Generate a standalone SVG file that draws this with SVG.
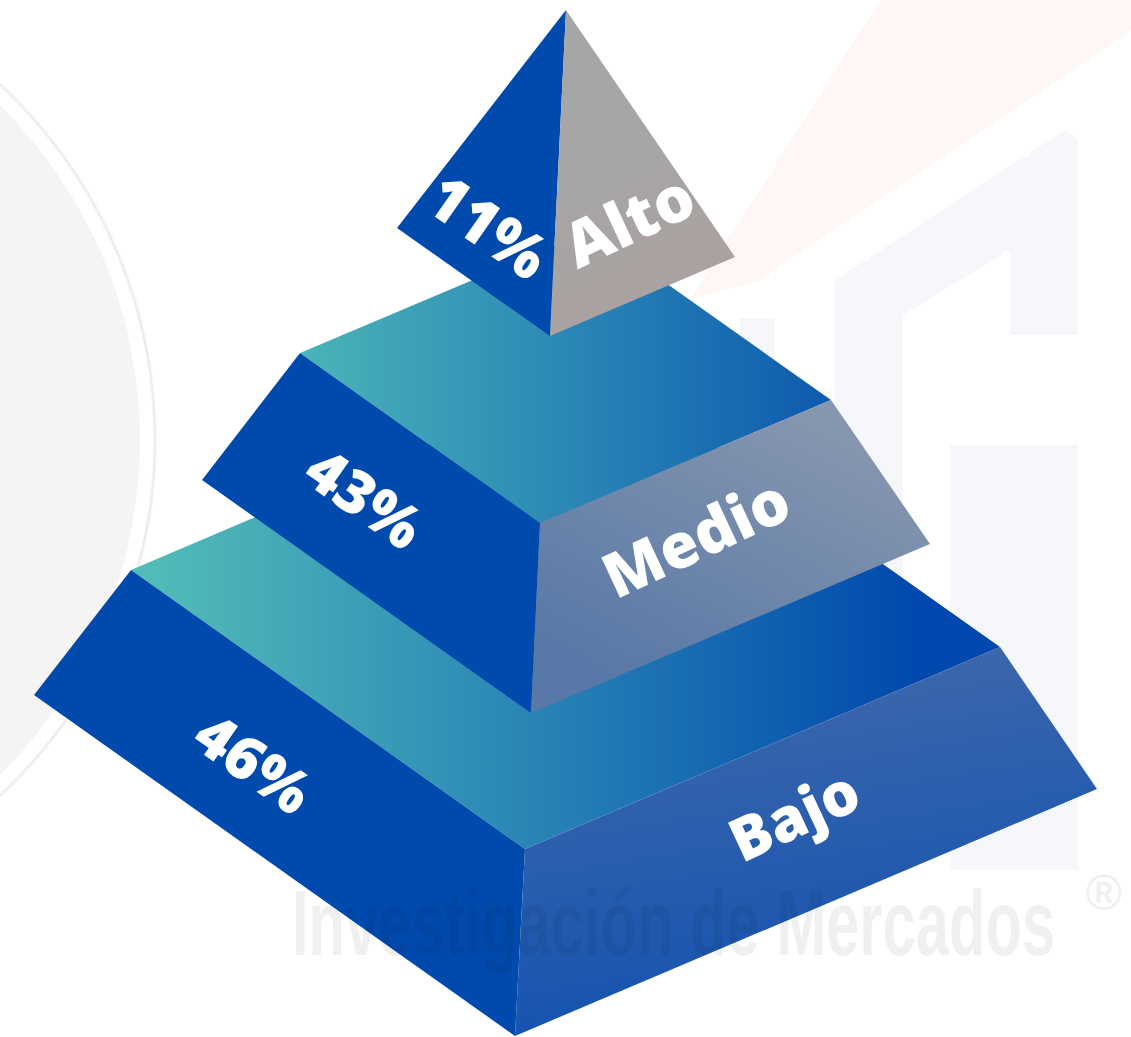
<svg xmlns="http://www.w3.org/2000/svg" width="1131" height="1037" viewBox="0 0 1131 1037">
<defs>
<style>
.lbl{font-family:"Open Sans","DejaVu Sans",sans-serif;font-weight:800;fill:#ffffff;text-anchor:middle}
.left{fill:#004aad}
.wm{fill:#f5f7fa}
.wmt{font-family:"Liberation Sans",sans-serif;font-weight:bold;fill:#000000;fill-opacity:0.06}
</style>
<linearGradient id="topBot" gradientUnits="userSpaceOnUse" x1="150" y1="0" x2="920" y2="0">
<stop offset="0" stop-color="#52bcb8"/><stop offset="0.45" stop-color="#2d8ab6"/><stop offset="1" stop-color="#0048ad"/>
</linearGradient>
<linearGradient id="topMid" gradientUnits="userSpaceOnUse" x1="300" y1="0" x2="850" y2="0">
<stop offset="0" stop-color="#4ab4b8"/><stop offset="0.5" stop-color="#2a86b5"/><stop offset="1" stop-color="#0c56ae"/>
</linearGradient>
<linearGradient id="rightBot" gradientUnits="userSpaceOnUse" x1="700" y1="660" x2="760" y2="1030">
<stop offset="0" stop-color="#4068aa"/><stop offset="1" stop-color="#1252b1"/>
</linearGradient>
<linearGradient id="rightMid" gradientUnits="userSpaceOnUse" x1="800" y1="410" x2="650" y2="700">
<stop offset="0" stop-color="#8696ae"/><stop offset="1" stop-color="#5878a7"/>
</linearGradient>
<linearGradient id="rightTop" gradientUnits="userSpaceOnUse" x1="600" y1="150" x2="680" y2="300">
<stop offset="0" stop-color="#a6a6a6"/><stop offset="1" stop-color="#aba1a0"/>
</linearGradient>
</defs>
<rect width="1131" height="1037" fill="#ffffff"/>
<g id="watermark">
<circle cx="-330" cy="440" r="470" fill="#f6f4f3"/>
<circle cx="-330" cy="440" r="485" fill="none" stroke="#f0eeee" stroke-width="3"/>
<circle cx="1085" cy="-55" r="72" fill="#f5f6f7"/>
<polygon points="880,0 1131,0 1131,30 760,280 690,300" fill="#fef7f5"/>
<polygon class="wm" points="835,280 1065,130 1078,140 1078,335 1010,335 1010,250 903,315 903,870 835,870"/>
<rect class="wm" x="950" y="445" width="128" height="425"/>
<rect class="wm" x="740" y="318" width="35" height="552"/>
</g>
<g id="tier-bajo">
<polygon points="131,570 606,368 1000,647 525,849" fill="url(#topBot)"/>
<polygon class="left" points="131,570 525,849 515,1036 34,695"/>
<polygon points="525,849 1000,647 1097,789 515,1036" fill="url(#rightBot)"/>
<text class="lbl" font-size="60" transform="translate(254,763) rotate(35)" y="22">46%</text>
<text class="lbl" font-size="60" transform="translate(794,815) rotate(-25)" y="22">Bajo</text>
</g>
<g id="tier-medio">
<polygon points="300,353 591,230 831,400 540,523" fill="url(#topMid)"/>
<polygon class="left" points="300,353 540,523 531,713 202,480"/>
<polygon points="540,523 831,400 930,544 531,713" fill="url(#rightMid)"/>
<text class="lbl" font-size="60" transform="translate(365,498) rotate(35)" y="22">43%</text>
<text class="lbl" font-size="62" transform="translate(696,538) rotate(-25)" y="22">Medio</text>
</g>
<g id="tier-alto">
<polygon class="left" points="566,10 397,228 550,336"/>
<polygon points="566,10 550,336 735,257" fill="url(#rightTop)"/>
<text class="lbl" font-size="62" transform="translate(488,227) rotate(35)" y="22">11%</text>
<text class="lbl" font-size="63" transform="translate(629,220) rotate(-25)" y="23">Alto</text>
</g>
<g id="watermark-text">
<text class="wmt" font-size="92" transform="translate(292,955) scale(0.649,1)">Investigación de Mercados</text>
<text class="wmt" font-size="50" x="1104" y="910" text-anchor="middle" font-weight="normal">®</text>
</g>
<g id="connectors"/>
</svg>
